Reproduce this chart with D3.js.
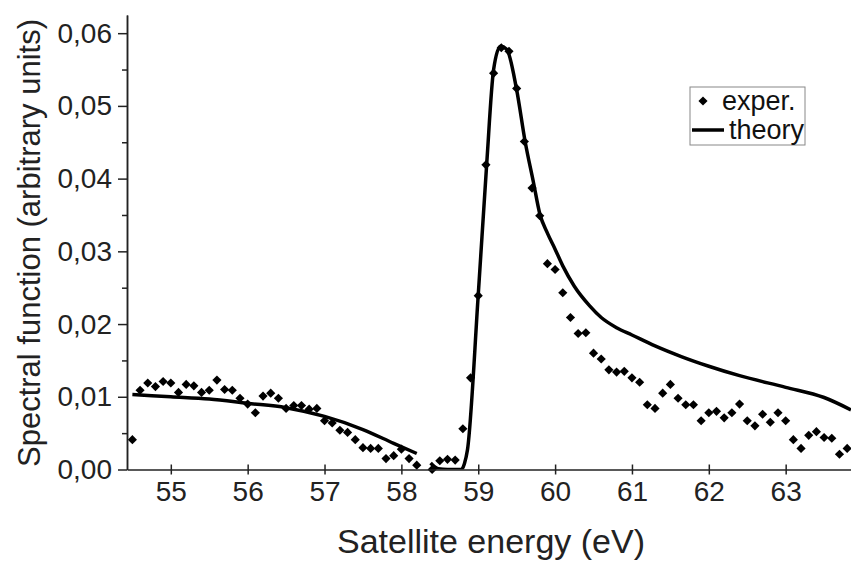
<!DOCTYPE html>
<meta charset="utf-8">
<style>
body { margin: 0; background: #fff; }
svg { font-family: "Liberation Sans", Arial, sans-serif; }
.axis path, .axis line { stroke: #222; stroke-width: 1.5px; }
.axis text { fill: #222; font-size: 28px; }
.title { fill: #222; font-size: 34px; }
.legend text { fill: #111; font-size: 27px; }
</style>
<svg width="851" height="561"></svg>
<script src="https://d3js.org/d3.v7.min.js"></script>
<script>

// experimental points (energy in eV, spectral function)
var expX = [54.5, 54.6, 54.7, 54.8, 54.9, 55.0, 55.1, 55.2, 55.3, 55.4, 55.5, 55.6, 55.7, 55.8, 55.9,
    56.0, 56.1, 56.2, 56.3, 56.4, 56.5, 56.6, 56.7, 56.8, 56.9, 57.0, 57.1, 57.2, 57.3, 57.4, 57.5,
    57.6, 57.7, 57.8, 57.9, 58.0, 58.1, 58.2, 58.4, 58.5, 58.6, 58.7, 58.8, 58.9, 59.0, 59.1, 59.2,
    59.3, 59.4, 59.5, 59.6, 59.7, 59.8, 59.9, 60.0, 60.1, 60.2, 60.3, 60.4, 60.5, 60.6, 60.7, 60.8,
    60.9, 61.0, 61.1, 61.2, 61.3, 61.4, 61.5, 61.6, 61.7, 61.8, 61.9, 62.0, 62.1, 62.2, 62.3, 62.4,
    62.5, 62.6, 62.7, 62.8, 62.9, 63.0, 63.1, 63.2, 63.3, 63.4, 63.5, 63.6, 63.7, 63.8];
var expY = [0.0041, 0.0109, 0.0119, 0.0114, 0.0121, 0.0119, 0.0106, 0.0117, 0.0115, 0.0106, 0.0109, 0.0123, 0.0110, 0.0109, 0.0098,
    0.0090, 0.0078, 0.0101, 0.0105, 0.0098, 0.0084, 0.0088, 0.0088, 0.0083, 0.0084, 0.0067, 0.0064, 0.0054, 0.0051, 0.0041, 0.0030,
    0.0029, 0.0029, 0.0015, 0.0019, 0.0028, 0.0015, 0.0006, 0.0000, 0.0012, 0.0014, 0.0013, 0.0056, 0.0126, 0.0239, 0.0419, 0.0545,
    0.0580, 0.0575, 0.0524, 0.0451, 0.0387, 0.0349, 0.0283, 0.0275, 0.0243, 0.0209, 0.0187, 0.0188, 0.0160, 0.0152, 0.0137, 0.0134,
    0.0135, 0.0126, 0.0120, 0.0089, 0.0084, 0.0105, 0.0117, 0.0098, 0.0089, 0.0089, 0.0067, 0.0078, 0.0080, 0.0071, 0.0078, 0.0090,
    0.0067, 0.0060, 0.0076, 0.0065, 0.0078, 0.0067, 0.0041, 0.0029, 0.0047, 0.0052, 0.0044, 0.0043, 0.0021, 0.0029];

// theory curve, null = gap in the curve
var theoryX = [54.5, 55.0, 55.5, 56.0, 56.5, 57.0, 57.5, 57.9, 58.2, 58.3,
    58.38, 58.48, 58.6, 58.78, 58.82, 58.86, 59.0, 59.11, 59.2, 59.29, 59.37, 59.5, 59.61, 59.72, 59.8,
    59.9, 60.0, 60.1, 60.25, 60.45, 60.6, 60.8, 61.0, 61.3, 61.65, 62.0, 62.4, 63.0, 63.5, 63.85];
var theoryY = [0.0103, 0.0100, 0.0097, 0.0091, 0.0085, 0.0073, 0.0055, 0.0036, 0.0022, null,
    0.0009, 0.0001, 0.0000, 0.0000, 0.0008, 0.0027, 0.0240, 0.0420, 0.0550, 0.0582, 0.0578, 0.0522, 0.0451, 0.0394, 0.0352,
    0.0325, 0.0303, 0.0280, 0.0252, 0.0225, 0.0209, 0.0195, 0.0185, 0.0170, 0.0155, 0.0142, 0.0129, 0.0113, 0.0099, 0.0082];

var xTicks = [55, 56, 57, 58, 59, 60, 61, 62, 63];
var yTicks = [0, 0.01, 0.02, 0.03, 0.04, 0.05, 0.06];
var yMinorTicks = [0.005, 0.015, 0.025, 0.035, 0.045, 0.055];

var svg = d3.select("svg");
var plotLeft = 127, plotRight = 851, plotTop = 15, plotBottom = 469.5;

var x = d3.scaleLinear().domain([54.43, 63.85]).range([plotLeft, plotRight]);
var y = d3.scaleLinear().domain([0, 0.0625]).range([plotBottom, plotTop]);

svg.append("clipPath").attr("id", "clip")
    .append("rect").attr("x", plotLeft).attr("y", 0).attr("width", plotRight - plotLeft).attr("height", plotBottom);

var exper = expX.map(function(d, i) { return {x: d, y: expY[i]}; });
var theory = theoryX.map(function(d, i) { return {x: d, y: theoryY[i]}; });

// theory line (smoothed like the original plot)
var line = d3.line()
    .defined(function(d) { return d.y !== null; })
    .curve(d3.curveMonotoneX)
    .x(function(d) { return x(d.x); })
    .y(function(d) { return y(d.y); });

svg.append("path")
    .datum(theory)
    .attr("clip-path", "url(#clip)")
    .attr("fill", "none")
    .attr("stroke", "#000")
    .attr("stroke-width", 3.5)
    .attr("stroke-linejoin", "round")
    .attr("d", line);

// experimental diamonds
var diamond = d3.symbol().type(d3.symbolSquare).size(42);
svg.append("g").selectAll("path")
    .data(exper)
    .enter().append("path")
    .attr("d", diamond)
    .attr("fill", "#000")
    .attr("transform", function(d) { return "translate(" + x(d.x) + "," + y(d.y) + ") rotate(45)"; });

// axes
var fmt = function(d) { return d3.format(".2f")(d).replace(".", ","); };

svg.append("g")
    .attr("class", "axis")
    .attr("transform", "translate(" + plotLeft + ",0)")
    .call(d3.axisLeft(y).tickValues(yMinorTicks).tickSize(5).tickSizeOuter(0).tickFormat(""));

var ya = svg.append("g")
    .attr("class", "axis")
    .attr("transform", "translate(" + plotLeft + ",0)")
    .call(d3.axisLeft(y).tickValues(yTicks).tickSize(9).tickSizeOuter(0).tickFormat(fmt));
ya.selectAll("text").attr("x", -15);

var xa = svg.append("g")
    .attr("class", "axis")
    .attr("transform", "translate(0," + plotBottom + ")")
    .call(d3.axisBottom(x).tickValues(xTicks).tickSize(5).tickSizeOuter(0).tickFormat(d3.format("d")));
xa.selectAll(".tick line").attr("y1", -5);
xa.selectAll("text").attr("y", 12);

// titles
svg.append("text")
    .attr("class", "title")
    .attr("x", 491).attr("y", 553)
    .attr("text-anchor", "middle")
    .text("Satellite energy (eV)");

svg.append("text")
    .attr("class", "title")
    .attr("transform", "translate(40,243) rotate(-90)")
    .attr("text-anchor", "middle")
    .style("font-size", "31px")
    .text("Spectral function (arbitrary units)");

// legend
var lg = svg.append("g").attr("class", "legend");
lg.append("rect")
    .attr("x", 690).attr("y", 87).attr("width", 115).attr("height", 58)
    .attr("fill", "#fff").attr("stroke", "#888").attr("stroke-width", 1);
lg.append("path")
    .attr("d", diamond)
    .attr("transform", "translate(703,101) rotate(45)");
lg.append("text").attr("x", 722).attr("y", 110).text("exper.");
lg.append("line")
    .attr("x1", 692).attr("x2", 724).attr("y1", 130).attr("y2", 130)
    .attr("stroke", "#000").attr("stroke-width", 3.5);
lg.append("text").attr("x", 729).attr("y", 139).text("theory");

</script>
